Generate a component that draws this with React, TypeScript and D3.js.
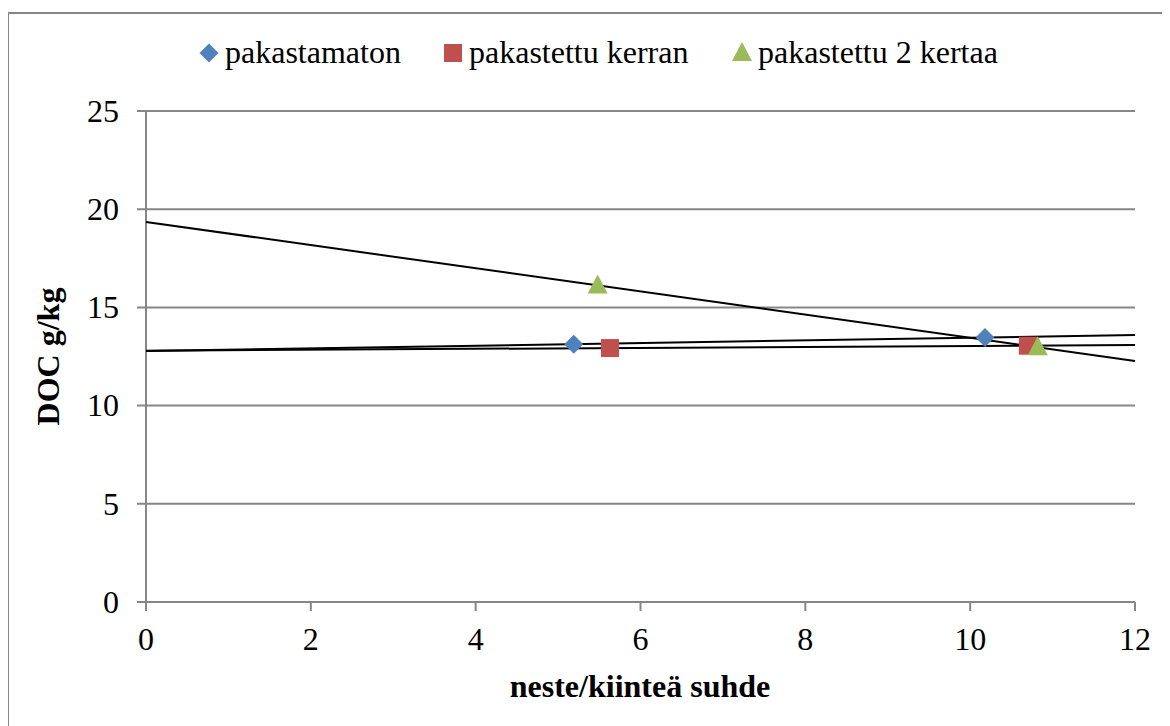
import React from 'react'
import * as d3 from 'd3'

// values
const seriesNames = ['pakastamaton', 'pakastettu kerran', 'pakastettu 2 kertaa']
const seriesColors = ['#4F81BD', '#C0504D', '#9BBB59']
const pakastamaton = [{x: 5.19, y: 13.13}, {x: 10.18, y: 13.47}]
const pakastettuKerran = [{x: 5.63, y: 12.93}, {x: 10.7, y: 13.05}]
const pakastettu2 = [{x: 5.48, y: 16.12}, {x: 10.82, y: 12.97}]
const xTicks = [0, 2, 4, 6, 8, 10, 12]
const yTicks = [0, 5, 10, 15, 20, 25]

const W = 1170
const H = 726
const margin = {top: 111, right: 35, bottom: 124, left: 146}
const GRID = '#868686'
const FS = 32

// least squares trendline (Excel's linear trendline)
function fit(pts: {x: number, y: number}[]) {
    const mx = d3.mean(pts, d => d.x) as number
    const my = d3.mean(pts, d => d.y) as number
    const sxy = d3.sum(pts, d => (d.x - mx) * (d.y - my))
    const sxx = d3.sum(pts, d => (d.x - mx) * (d.x - mx))
    const b = sxy / sxx
    return {a: my - b * mx, b: b}
}

function Marker({kind, x, y, color}: {kind: number, x: number, y: number, color: string}) {
    if (kind === 0) {
        const r = 9.5
        return <path d={`M${x},${y - r}L${x + r},${y}L${x},${y + r}L${x - r},${y}Z`} fill={color}/>
    } else if (kind === 1) {
        return <rect x={x - 9} y={y - 9} width={18} height={18} fill={color}/>
    }
    return <path d={`M${x},${y - 11}L${x + 10},${y + 8}L${x - 10},${y + 8}Z`} fill={color}/>
}

function T(props: any) {
    return <text {...props} fontSize={FS} style={{fontFamily: `"Liberation Serif"`}}>{props.children}</text>
}

export default function App() {
    const x = d3.scaleLinear().domain([0, 12]).range([margin.left, W - margin.right])
    const y = d3.scaleLinear().domain([0, 25]).range([H - margin.bottom, margin.top])
    const all = [pakastamaton, pakastettuKerran, pakastettu2]
    const line = d3.line<number>().x(d => x(d[0])).y(d => y(d[1]))

    const legendX = [209, 453, 742]

    return (
        <div style={{margin: '-8px 0 0 -8px', width: W, height: H}}>
            <svg width={W} height={H} fontFamily="Liberation Serif">
                <rect x={8} y={13} width={W + 10} height={H + 10} fill="#fff" stroke={GRID} strokeWidth={2}/>

                {/* gridlines */}
                {yTicks.map(t => (
                    <g key={t}>
                        <line x1={x(0) - 9} x2={x(12)} y1={y(t)} y2={y(t)} stroke={GRID} strokeWidth={2}/>
                        <T x={119} y={y(t)} dy="0.34em" textAnchor="end">{t}</T>
                    </g>
                ))}
                <line x1={x(0)} x2={x(0)} y1={y(25)} y2={y(0)} stroke={GRID} strokeWidth={2}/>
                {xTicks.map(t => (
                    <g key={t}>
                        <line x1={x(t)} x2={x(t)} y1={y(0)} y2={y(0) + 9} stroke={GRID} strokeWidth={2}/>
                        <T x={x(t)} y={650} textAnchor="middle">{t}</T>
                    </g>
                ))}

                {/* trendlines */}
                {all.map((pts, i) => {
                    const f = fit(pts)
                    return <path key={i} d={line([[0, f.a], [12, f.a + 12 * f.b]]) as string}
                                 stroke="#000" strokeWidth={2} fill="none"/>
                })}

                {/* points */}
                {all.map((pts, i) => pts.map((p, j) => (
                    <Marker key={i + '-' + j} kind={i} x={x(p.x)} y={y(p.y)} color={seriesColors[i]}/>
                )))}

                {/* legend */}
                {seriesNames.map((n, i) => (
                    <g key={n}>
                        <Marker kind={i} x={legendX[i]} y={53} color={seriesColors[i]}/>
                        <T x={legendX[i] + 16} y={63}>{n}</T>
                    </g>
                ))}

                {/* axis titles */}
                <T x={640} y={697} textAnchor="middle" fontWeight="bold">neste/kiinteä suhde</T>
                <T transform={`translate(48,${y(12.5)}) rotate(-90)`} dy="0.35em" textAnchor="middle"
                   fontWeight="bold">DOC g/kg</T>
            </svg>
        </div>
    )
}
